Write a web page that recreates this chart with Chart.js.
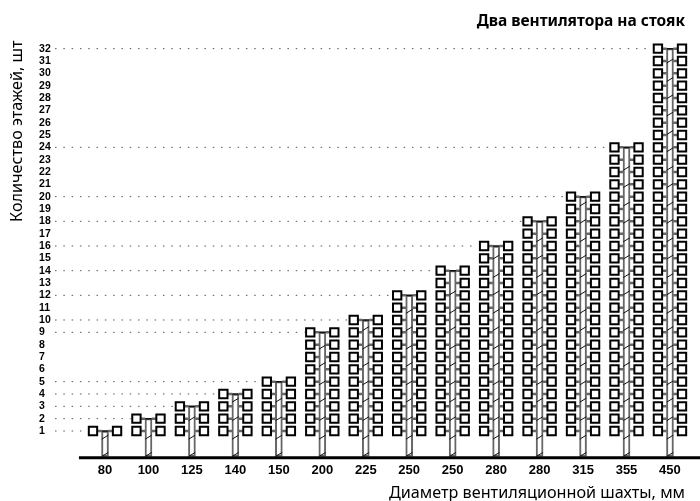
<!DOCTYPE html>
<html>
<head>
<meta charset="utf-8">
<title>Два вентилятора на стояк</title>
<script src="https://cdn.jsdelivr.net/npm/chart.js@4"></script>
<style>
  html, body { margin: 0; padding: 0; background: #fff; }
  #wrap { width: 700px; height: 501px; }
</style>
</head>
<body>
<div id="wrap"><canvas id="fanChart"></canvas></div>
<script>
const categories = ['80', '100', '125', '140', '150', '200', '225', '250', '250', '280', '280', '315', '355', '450'];
const floors = [1, 2, 3, 4, 5, 9, 10, 12, 14, 16, 18, 20, 24, 32];
const yTicks = [1, 2, 3, 4, 5, 6, 7, 8, 9, 10, 11, 12, 13, 14, 15, 16, 17, 18, 19, 20, 21, 22, 23, 24, 25, 26, 27, 28, 29, 30, 31, 32];
const hatchLevels = [-0.9, 0.5, 2, 3.5, 4.9, 6.4, 7.8, 9.3, 10.7, 12.2, 13.6, 15.1, 16.5, 18, 19.4, 20.9, 22.3, 23.8, 25.2, 26.7, 28.1, 29.5, 31];

const baseLevel = -1.07;
const fanOffset = 0.277;
const pipeHalf = 0.075;

// Build the line pieces from the data, a null point breaks the line
const fans = [];
const connectors = [];
const topLinks = [];
const hatches = [];
const leaders = [];
const pipes = [];

floors.forEach(function (top, i) {
  pipes.push({ x: i, y: [baseLevel, top] });
  for (let level = 1; level <= top; level++) {
    fans.push({ x: i - fanOffset, y: level }, { x: i + fanOffset, y: level });
    connectors.push(
      { x: i - fanOffset, y: level }, { x: i - pipeHalf, y: level }, { x: i, y: null },
      { x: i + pipeHalf, y: level }, { x: i + fanOffset, y: level }, { x: i, y: null }
    );
  }
  topLinks.push({ x: i - pipeHalf, y: top }, { x: i + pipeHalf, y: top }, { x: i, y: null });
  hatchLevels.filter(function (h) { return h < top - 0.4; }).forEach(function (h) {
    hatches.push({ x: i - pipeHalf, y: h - 0.16 }, { x: i + pipeHalf, y: h + 0.16 }, { x: i, y: null });
  });
  leaders.push({ x: -1.15, y: top }, { x: i - 0.41, y: top }, { x: i, y: null });
});

new Chart(document.getElementById('fanChart'), {
  type: 'bar',
  data: {
    datasets: [
      {
        type: 'line',
        data: [{ x: -0.6, y: baseLevel - 0.1 }, { x: 14, y: baseLevel - 0.1 }],
        borderColor: '#000',
        borderWidth: 3,
        pointRadius: 0,
        clip: false,
        order: 0
      },
      {
        type: 'line',
        data: fans,
        showLine: false,
        pointStyle: 'rect',
        pointRadius: 5.9,
        pointBackgroundColor: '#fff',
        pointBorderColor: '#000',
        pointBorderWidth: 2,
        clip: false,
        order: 1
      },
      {
        type: 'line',
        data: topLinks,
        borderColor: '#111',
        borderWidth: 1.5,
        pointRadius: 0,
        order: 2
      },
      {
        type: 'line',
        data: hatches,
        borderColor: '#111',
        borderWidth: 1,
        pointRadius: 0,
        order: 3
      },
      {
        type: 'line',
        data: connectors,
        borderColor: '#666',
        borderWidth: 2.5,
        pointRadius: 0,
        clip: false,
        order: 4
      },
      {
        data: pipes,
        backgroundColor: '#fff',
        borderColor: '#666',
        borderWidth: 2,
        borderSkipped: false,
        barThickness: 7,
        order: 5
      },
      {
        type: 'line',
        data: leaders,
        borderColor: '#555',
        borderWidth: 1,
        borderDash: [1.5, 6.8],
        pointRadius: 0,
        clip: false,
        order: 6
      }
    ]
  },
  options: {
    responsive: true,
    maintainAspectRatio: false,
    animation: false,
    layout: { padding: { right: 15 } },
    plugins: {
      legend: { display: false },
      tooltip: { enabled: false },
      title: {
        display: true,
        text: 'Два вентилятора на стояк',
        align: 'end',
        color: '#000',
        font: { family: '"Noto Sans"', size: 15.5, weight: 'bold', lineHeight: 1 },
        padding: { top: 14, bottom: 11 }
      },
      subtitle: {
        display: true,
        position: 'left',
        fullSize: false,
        text: 'Количество этажей, шт',
        align: 'end',
        color: '#000',
        font: { family: '"Noto Sans"', size: 16.2, weight: 'normal', lineHeight: 1.2 },
        padding: { top: 7.8, bottom: 11.8 }
      }
    },
    scales: {
      x: {
        type: 'linear',
        offset: false,
        min: -1.15,
        max: 13.346,
        grid: { display: false, drawTicks: false },
        border: { display: false },
        afterBuildTicks: function (scale) {
          scale.ticks = categories.map(function (c, i) { return { value: i }; });
        },
        afterFit: function (scale) { scale.height = 42; },
        ticks: {
          autoSkip: false,
          maxRotation: 0,
          padding: 4,
          color: '#000',
          font: { family: '"Liberation Sans"', size: 13, weight: 'bold' },
          callback: function (v) { return categories[v]; }
        },
        title: {
          display: true,
          text: 'Диаметр вентиляционной шахты, мм',
          align: 'end',
          color: '#000',
          font: { family: '"Noto Sans"', size: 16.2, weight: 'normal' },
          padding: { top: 0, bottom: -2 }
        }
      },
      y: {
        type: 'linear',
        min: -1.27,
        max: 32.66,
        grid: { display: false, drawTicks: false },
        border: { display: false },
        afterBuildTicks: function (scale) {
          scale.ticks = yTicks.map(function (v) { return { value: v }; });
        },
        afterFit: function (scale) { scale.width = 16; },
        ticks: {
          autoSkip: false,
          padding: 0,
          crossAlign: 'far',
          color: '#000',
          font: { family: '"Liberation Sans"', size: 10.5, weight: 'bold' }
        }
      }
    }
  }
});
</script>
</body>
</html>
